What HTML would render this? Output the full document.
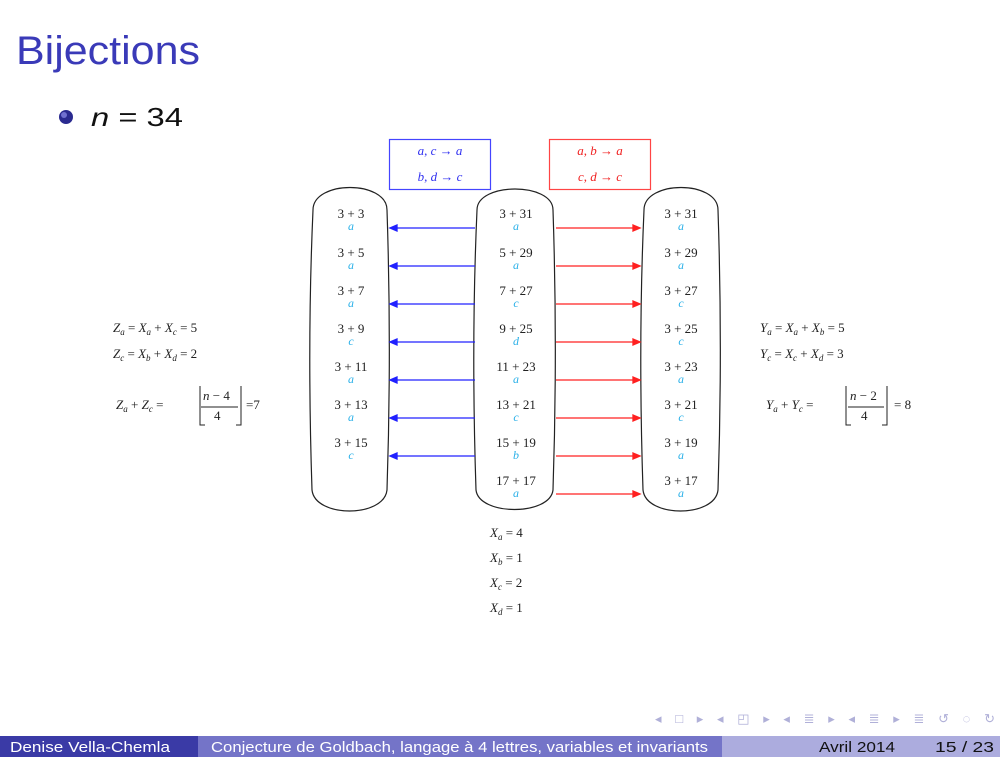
<!DOCTYPE html>
<html><head><meta charset="utf-8"><style>
body{margin:0;width:1000px;height:757px;background:#fff;overflow:hidden;position:relative;font-family:"Liberation Sans",sans-serif}
svg{position:absolute;left:0;top:0}
.m{font-family:"Liberation Serif",serif;font-size:13px;fill:#222}
.l{font-family:"Liberation Serif",serif;font-style:italic;font-size:12px;fill:#2ab0e8}
.i{font-style:italic}
</style></head><body>
<svg width="1000" height="757" viewBox="0 0 1000 757">
<text x="16" y="64" font-family="Liberation Sans" font-size="40" fill="#3a3ab8" textLength="184" lengthAdjust="spacingAndGlyphs">Bijections</text>
<circle cx="66" cy="117" r="7" fill="#2a2a90"/>
<circle cx="64" cy="115" r="3" fill="#7070d0"/>
<text x="91" y="126" font-family="Liberation Sans" font-size="26" fill="#111" textLength="92" lengthAdjust="spacingAndGlyphs"><tspan font-style="italic">n</tspan> = 34</text>

<rect x="389.5" y="139.5" width="101" height="50" fill="none" stroke="#4444ff" stroke-width="1.2"/>
<text x="440" y="155" text-anchor="middle" class="m" style="fill:#3030f0"><tspan class="i">a</tspan>, <tspan class="i">c</tspan> → <tspan class="i">a</tspan></text>
<text x="440" y="181" text-anchor="middle" class="m" style="fill:#3030f0"><tspan class="i">b</tspan>, <tspan class="i">d</tspan> → <tspan class="i">c</tspan></text>
<rect x="549.5" y="139.5" width="101" height="50" fill="none" stroke="#ff4444" stroke-width="1.2"/>
<text x="600" y="155" text-anchor="middle" class="m" style="fill:#f02020"><tspan class="i">a</tspan>, <tspan class="i">b</tspan> → <tspan class="i">a</tspan></text>
<text x="600" y="181" text-anchor="middle" class="m" style="fill:#f02020"><tspan class="i">c</tspan>, <tspan class="i">d</tspan> → <tspan class="i">c</tspan></text>

<g fill="none" stroke="#222" stroke-width="1.2">
<path d="M313,210 C313,180 387,180 387,210 C390,300 390,400 387,490 C384,518 315,518 312,490 C309,400 309,300 313,210Z"/>
<path d="M477,210 C477,182 553,182 553,210 C556,300 556,400 553,490 C550,516 479,516 476,490 C473,400 473,300 477,210Z"/>
<path d="M644,210 C644,180 718,180 718,210 C721,300 721,400 718,490 C715,518 646,518 643,490 C640,400 640,300 644,210Z"/>
</g>
</svg>
<svg width="1000" height="757">
<g class="m" text-anchor="middle">
<text x="351" y="218">3 + 3</text><text x="351" y="257">3 + 5</text><text x="351" y="295">3 + 7</text><text x="351" y="333">3 + 9</text><text x="351" y="371">3 + 11</text><text x="351" y="409">3 + 13</text><text x="351" y="447">3 + 15</text>
<text x="516" y="218">3 + 31</text><text x="516" y="257">5 + 29</text><text x="516" y="295">7 + 27</text><text x="516" y="333">9 + 25</text><text x="516" y="371">11 + 23</text><text x="516" y="409">13 + 21</text><text x="516" y="447">15 + 19</text><text x="516" y="485">17 + 17</text>
<text x="681" y="218">3 + 31</text><text x="681" y="257">3 + 29</text><text x="681" y="295">3 + 27</text><text x="681" y="333">3 + 25</text><text x="681" y="371">3 + 23</text><text x="681" y="409">3 + 21</text><text x="681" y="447">3 + 19</text><text x="681" y="485">3 + 17</text>
</g>
<g class="l" text-anchor="middle">
<text x="351" y="230">a</text><text x="351" y="269">a</text><text x="351" y="307">a</text><text x="351" y="345">c</text><text x="351" y="383">a</text><text x="351" y="421">a</text><text x="351" y="459">c</text>
<text x="516" y="230">a</text><text x="516" y="269">a</text><text x="516" y="307">c</text><text x="516" y="345">d</text><text x="516" y="383">a</text><text x="516" y="421">c</text><text x="516" y="459">b</text><text x="516" y="497">a</text>
<text x="681" y="230">a</text><text x="681" y="269">a</text><text x="681" y="307">c</text><text x="681" y="345">c</text><text x="681" y="383">a</text><text x="681" y="421">c</text><text x="681" y="459">a</text><text x="681" y="497">a</text>
</g>
<g stroke="#2020ff" stroke-width="1.3" fill="#2020ff">
<line x1="475" y1="228" x2="396" y2="228"/><path d="M390,228 l7,-3 v6z"/>
<line x1="475" y1="266" x2="396" y2="266"/><path d="M390,266 l7,-3 v6z"/>
<line x1="475" y1="304" x2="396" y2="304"/><path d="M390,304 l7,-3 v6z"/>
<line x1="475" y1="342" x2="396" y2="342"/><path d="M390,342 l7,-3 v6z"/>
<line x1="475" y1="380" x2="396" y2="380"/><path d="M390,380 l7,-3 v6z"/>
<line x1="475" y1="418" x2="396" y2="418"/><path d="M390,418 l7,-3 v6z"/>
<line x1="475" y1="456" x2="396" y2="456"/><path d="M390,456 l7,-3 v6z"/>
</g>
<g stroke="#ff2020" stroke-width="1.3" fill="#ff2020">
<line x1="556" y1="228" x2="634" y2="228"/><path d="M640,228 l-7,-3 v6z"/>
<line x1="556" y1="266" x2="634" y2="266"/><path d="M640,266 l-7,-3 v6z"/>
<line x1="556" y1="304" x2="634" y2="304"/><path d="M640,304 l-7,-3 v6z"/>
<line x1="556" y1="342" x2="634" y2="342"/><path d="M640,342 l-7,-3 v6z"/>
<line x1="556" y1="380" x2="634" y2="380"/><path d="M640,380 l-7,-3 v6z"/>
<line x1="556" y1="418" x2="634" y2="418"/><path d="M640,418 l-7,-3 v6z"/>
<line x1="556" y1="456" x2="634" y2="456"/><path d="M640,456 l-7,-3 v6z"/>
<line x1="556" y1="494" x2="634" y2="494"/><path d="M640,494 l-7,-3 v6z"/>
</g>
<g class="m">
<text x="490" y="537"><tspan class="i">X</tspan><tspan font-size="9" class="i" dy="3">a</tspan><tspan dy="-3"> = 4</tspan></text>
<text x="490" y="562"><tspan class="i">X</tspan><tspan font-size="9" class="i" dy="3">b</tspan><tspan dy="-3"> = 1</tspan></text>
<text x="490" y="587"><tspan class="i">X</tspan><tspan font-size="9" class="i" dy="3">c</tspan><tspan dy="-3"> = 2</tspan></text>
<text x="490" y="612"><tspan class="i">X</tspan><tspan font-size="9" class="i" dy="3">d</tspan><tspan dy="-3"> = 1</tspan></text>

<text x="113" y="332"><tspan class="i">Z</tspan><tspan font-size="9" class="i" dy="3">a</tspan><tspan dy="-3"> = </tspan><tspan class="i">X</tspan><tspan font-size="9" class="i" dy="3">a</tspan><tspan dy="-3"> + </tspan><tspan class="i">X</tspan><tspan font-size="9" class="i" dy="3">c</tspan><tspan dy="-3"> = 5</tspan></text>
<text x="113" y="358"><tspan class="i">Z</tspan><tspan font-size="9" class="i" dy="3">c</tspan><tspan dy="-3"> = </tspan><tspan class="i">X</tspan><tspan font-size="9" class="i" dy="3">b</tspan><tspan dy="-3"> + </tspan><tspan class="i">X</tspan><tspan font-size="9" class="i" dy="3">d</tspan><tspan dy="-3"> = 2</tspan></text>
<text x="116" y="409"><tspan class="i">Z</tspan><tspan font-size="9" class="i" dy="3">a</tspan><tspan dy="-3"> + </tspan><tspan class="i">Z</tspan><tspan font-size="9" class="i" dy="3">c</tspan><tspan dy="-3"> =</tspan></text>
<text x="203" y="400"><tspan class="i">n</tspan> − 4</text><text x="214" y="420">4</text>
<text x="246" y="409">=7</text>

<text x="760" y="332"><tspan class="i">Y</tspan><tspan font-size="9" class="i" dy="3">a</tspan><tspan dy="-3"> = </tspan><tspan class="i">X</tspan><tspan font-size="9" class="i" dy="3">a</tspan><tspan dy="-3"> + </tspan><tspan class="i">X</tspan><tspan font-size="9" class="i" dy="3">b</tspan><tspan dy="-3"> = 5</tspan></text>
<text x="760" y="358"><tspan class="i">Y</tspan><tspan font-size="9" class="i" dy="3">c</tspan><tspan dy="-3"> = </tspan><tspan class="i">X</tspan><tspan font-size="9" class="i" dy="3">c</tspan><tspan dy="-3"> + </tspan><tspan class="i">X</tspan><tspan font-size="9" class="i" dy="3">d</tspan><tspan dy="-3"> = 3</tspan></text>
<text x="766" y="409"><tspan class="i">Y</tspan><tspan font-size="9" class="i" dy="3">a</tspan><tspan dy="-3"> + </tspan><tspan class="i">Y</tspan><tspan font-size="9" class="i" dy="3">c</tspan><tspan dy="-3"> =</tspan></text>
<text x="850" y="400"><tspan class="i">n</tspan> − 2</text><text x="861" y="420">4</text>
<text x="894" y="409">= 8</text>
</g>
<g stroke="#222" stroke-width="1" fill="none">
<path d="M200,386 V425 H205"/><line x1="201" y1="407" x2="238" y2="407"/><path d="M241,386 V425 H236"/>
<path d="M846,386 V425 H851"/><line x1="848" y1="407" x2="884" y2="407"/><path d="M887,386 V425 H882"/>
</g>
<text x="655" y="723" font-size="13" fill="#b0b0d8" textLength="340" lengthAdjust="spacing">◂ □ ▸ ◂ ◰ ▸ ◂ ≣ ▸ ◂ ≣ ▸ ≣ ↺ ◌ ↻</text>
<rect x="0" y="736" width="198" height="21" fill="#3a3aa6"/>
<rect x="198" y="736" width="524" height="21" fill="#7474c8"/>
<rect x="722" y="736" width="278" height="21" fill="#acacde"/>
<g font-size="15" font-family="Liberation Sans">
<text x="10" y="752" fill="#fff" textLength="160" lengthAdjust="spacingAndGlyphs">Denise Vella-Chemla</text>
<text x="211" y="752" fill="#fff" textLength="497" lengthAdjust="spacingAndGlyphs">Conjecture de Goldbach, langage à 4 lettres, variables et invariants</text>
<text x="819" y="752" fill="#111" textLength="76" lengthAdjust="spacingAndGlyphs">Avril 2014</text>
<text x="935" y="752" fill="#111" textLength="59" lengthAdjust="spacingAndGlyphs">15 / 23</text>
</g>
</svg>
</body></html>
